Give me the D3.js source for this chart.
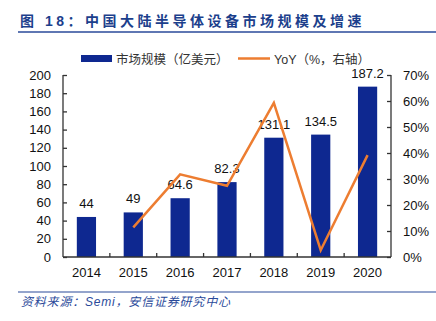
<!DOCTYPE html>
<html>
<head>
<meta charset="utf-8">
<script src="https://cdn.jsdelivr.net/npm/d3@7"></script>
<style>
  body { margin: 0; background: #fff; }
  svg text { font-family: "Liberation Sans", Arial, "Noto Sans CJK SC", sans-serif; }
  .cjk { font-family: "Liberation Sans", "Noto Sans CJK SC", sans-serif; }
</style>
</head>
<body>
<svg id="chart" width="436" height="321"></svg>
<script>
// data
const years = ["2014", "2015", "2016", "2017", "2018", "2019", "2020"];
const marketSize = [44, 49, 64.6, 82.3, 131.1, 134.5, 187.2];
const marketLabels = ["44", "49", "64.6", "82.3", "131.1", "134.5", "187.2"];
const yoyYears = ["2015", "2016", "2017", "2018", "2019", "2020"];
const yoyValues = [11.4, 31.8, 27.4, 59.3, 2.6, 39.2];
const leftTicks = [0, 20, 40, 60, 80, 100, 120, 140, 160, 180, 200];
const rightTicks = [0, 10, 20, 30, 40, 50, 60, 70];

const svg = d3.select("#chart");

const plot = { left: 63, right: 391, top: 75, bottom: 257 };
const barColor = "#0e2890";
const lineColor = "#ed7d31";
const titleColor = "#1c3f8c";

/* title and rule */
svg.append("text")
    .attr("class", "cjk")
    .attr("x", 20).attr("y", 26)
    .attr("fill", titleColor)
    .style("font-size", "14px")
    .style("font-weight", "bold")
    .style("letter-spacing", "3.5px")
    .text("图 18：中国大陆半导体设备市场规模及增速");
svg.append("line")
    .attr("x1", 18).attr("x2", 436).attr("y1", 32).attr("y2", 32)
    .attr("stroke", "#2a4a9a").attr("stroke-width", 1.5);

/* scales */
let x = d3.scaleBand()
    .domain(years)
    .range([plot.left, plot.right])
    .paddingInner(0.59)
    .paddingOuter(0.295);
let xOuter = d3.scaleBand().domain(years).range([plot.left, plot.right]);
let yLeft = d3.scaleLinear().domain([0, 200]).range([plot.bottom, plot.top]);
let yRight = d3.scaleLinear().domain([0, 70]).range([plot.bottom, plot.top]);

/* bars */
svg.append("g").selectAll("rect")
    .data(years)
    .join("rect")
    .attr("x", d => x(d))
    .attr("width", x.bandwidth())
    .attr("y", (d, i) => yLeft(marketSize[i]))
    .attr("height", (d, i) => plot.bottom - yLeft(marketSize[i]))
    .attr("fill", barColor);

/* bar labels */
svg.append("g").selectAll("text")
    .data(years)
    .join("text")
    .attr("x", d => x(d) + x.bandwidth() / 2)
    .attr("y", (d, i) => yLeft(marketSize[i]) - 9)
    .attr("text-anchor", "middle")
    .style("font-size", "13px")
    .attr("fill", "#111")
    .text((d, i) => marketLabels[i]);

/* axes */
let leftAxis = d3.axisLeft(yLeft).tickValues(leftTicks).tickSize(-4).tickPadding(12);
let rightAxis = d3.axisRight(yRight).tickValues(rightTicks).tickSize(-4).tickPadding(12)
    .tickFormat(d => d + "%");

let gl = svg.append("g").attr("transform", "translate(" + plot.left + ",0)").call(leftAxis);
let gr = svg.append("g").attr("transform", "translate(" + plot.right + ",0)").call(rightAxis);
[gl, gr].forEach(g => {
    g.select("path.domain").remove();
    g.selectAll(".tick line").attr("stroke", "#333").attr("stroke-width", 1.3);
    g.selectAll(".tick text").style("font-size", "13px").attr("fill", "#111").attr("font-family", null);
});
svg.append("line").attr("x1", plot.left).attr("x2", plot.left).attr("y1", plot.top).attr("y2", plot.bottom)
    .attr("stroke", "#333").attr("stroke-width", 1.3);
svg.append("line").attr("x1", plot.right).attr("x2", plot.right).attr("y1", plot.top).attr("y2", plot.bottom)
    .attr("stroke", "#333").attr("stroke-width", 1.3);
svg.append("line").attr("x1", plot.left).attr("x2", plot.right).attr("y1", plot.bottom).attr("y2", plot.bottom)
    .attr("stroke", "#333").attr("stroke-width", 1.3);

/* x ticks between categories */
svg.append("g").selectAll("line")
    .data(years.slice(1))
    .join("line")
    .attr("x1", d => xOuter(d)).attr("x2", d => xOuter(d))
    .attr("y1", plot.bottom).attr("y2", plot.bottom - 4)
    .attr("stroke", "#333").attr("stroke-width", 1.3);

svg.append("g").selectAll("text")
    .data(years)
    .join("text")
    .attr("x", d => x(d) + x.bandwidth() / 2)
    .attr("y", plot.bottom + 20)
    .attr("text-anchor", "middle")
    .style("font-size", "13px")
    .attr("fill", "#111")
    .text(d => d);

/* YoY line */
let line = d3.line()
    .x((d, i) => x(yoyYears[i]) + x.bandwidth() / 2)
    .y(d => yRight(d));
svg.append("path")
    .datum(yoyValues)
    .attr("d", line)
    .attr("fill", "none")
    .attr("stroke", lineColor)
    .attr("stroke-width", 2.5);

/* legend */
let legend = svg.append("g");
legend.append("rect").attr("x", 81).attr("y", 55).attr("width", 31).attr("height", 7).attr("fill", barColor);
legend.append("text").attr("class", "cjk").attr("x", 116).attr("y", 63.5)
    .style("font-size", "12.5px").attr("fill", "#333").text("市场规模（亿美元）");
legend.append("line").attr("x1", 238).attr("x2", 270).attr("y1", 58.5).attr("y2", 58.5)
    .attr("stroke", lineColor).attr("stroke-width", 2.5);
legend.append("text").attr("class", "cjk").attr("x", 274).attr("y", 63.5)
    .style("font-size", "12.5px").attr("fill", "#333").text("YoY（%，右轴）");

/* source */
svg.append("line")
    .attr("x1", 18).attr("x2", 436).attr("y1", 292).attr("y2", 292)
    .attr("stroke", "#2a4a9a").attr("stroke-width", 1.2);
svg.append("text")
    .attr("class", "cjk")
    .attr("x", 21).attr("y", 306)
    .attr("fill", "#2a4a9a")
    .style("font-size", "12px")
    .style("font-style", "italic")
    .style("letter-spacing", "0.8px")
    .text("资料来源：Semi，安信证券研究中心");
</script>
</body>
</html>
